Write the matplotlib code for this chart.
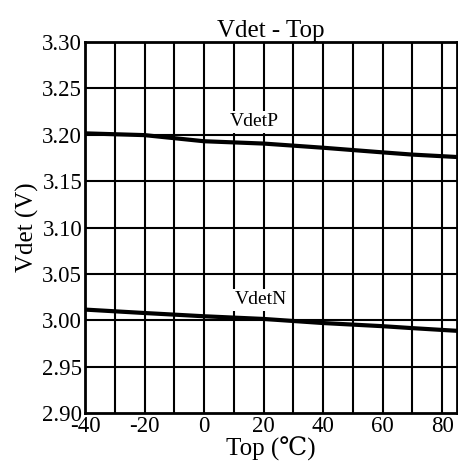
import matplotlib
matplotlib.use("Agg")
import matplotlib.pyplot as plt

plt.rcParams['font.family'] = ['Liberation Serif', 'DejaVu Serif', 'Noto Sans CJK SC']

temp = [-40, -20, 0, 20, 40, 60, 70, 85]
vdetp = [3.2015, 3.1996, 3.193, 3.1905, 3.186, 3.181, 3.1786, 3.176]
vdetn = [3.0115, 3.0078, 3.0043, 3.0014, 2.997, 2.9936, 2.9915, 2.9886]
xticks = [-40, -20, 0, 20, 40, 60, 80]
yticks = [2.90, 2.95, 3.00, 3.05, 3.10, 3.15, 3.20, 3.25, 3.30]

fig = plt.figure(figsize=(4.58, 4.76), dpi=100)
ax = fig.add_axes([85/458, 1-413/476, (457-85)/458, (413-42)/476])
ax.set_xlim(-40, 85)
ax.set_ylim(2.90, 3.30)

for x in range(-30, 85, 10):
    ax.axvline(x, color='black', lw=1.5, zorder=1)
for y in yticks[1:-1]:
    ax.axhline(y, color='black', lw=1.5, zorder=1)

ax.plot(temp, vdetp, color='black', lw=3, zorder=3)
ax.plot(temp, vdetn, color='black', lw=3, zorder=3)

ax.text(17, 3.214, 'VdetP', fontsize=14, ha='center', va='center', zorder=2,
        bbox=dict(facecolor='white', edgecolor='none', pad=2))
ax.text(19, 3.022, 'VdetN', fontsize=14, ha='center', va='center', zorder=2,
        bbox=dict(facecolor='white', edgecolor='none', pad=2))

ax.set_xticks(xticks)
ax.set_xticklabels([str(t) for t in xticks])
ax.set_yticks(yticks)
ax.set_yticklabels([f'{t:.2f}' for t in yticks])
ax.tick_params(length=0, labelsize=16.5, pad=2)
for s in ax.spines.values():
    s.set_linewidth(2)
    s.set_color('black')

ax.set_title('Vdet - Top', fontsize=18, pad=3)
ax.set_xlabel('Top (\u2103)', fontsize=18, labelpad=0)
ax.set_ylabel('Vdet (V)', fontsize=18, labelpad=2)

fig.savefig('out.png', dpi=100)
